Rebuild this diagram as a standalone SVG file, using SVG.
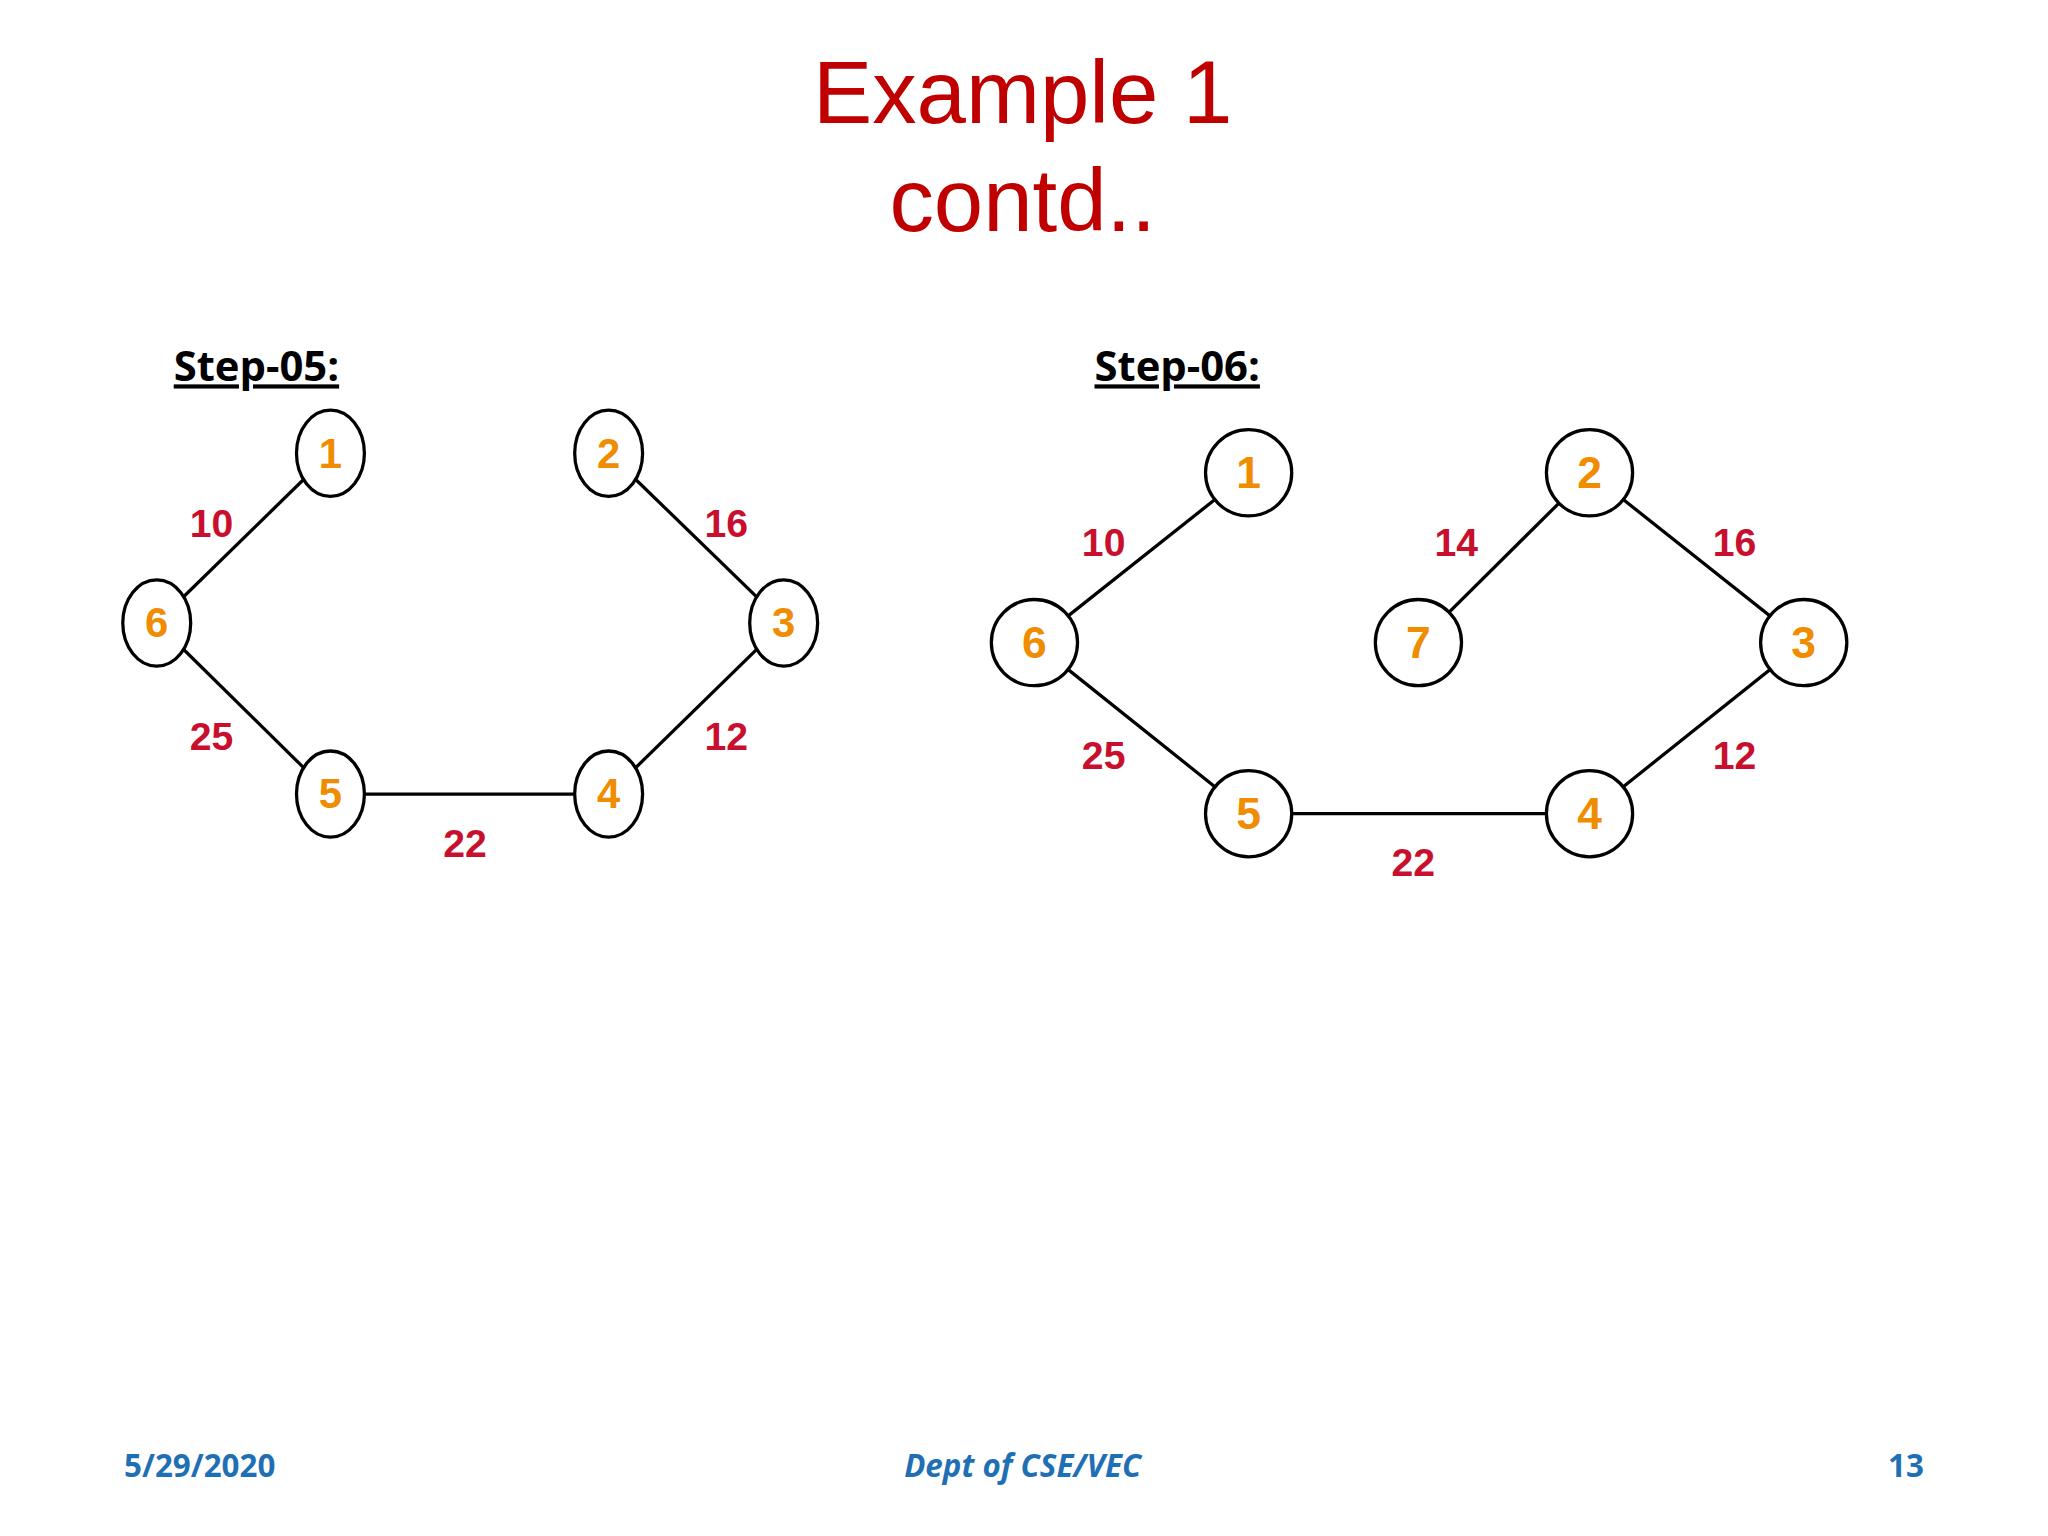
<svg xmlns="http://www.w3.org/2000/svg" width="2048" height="1536" viewBox="0 0 2048 1536">
<style>
.e{stroke:#000;stroke-width:2.5;fill:none}
.n{fill:#fff;stroke:#000;stroke-width:2.5}
.nt{font-family:"Liberation Sans Narrow","Liberation Sans",sans-serif;font-weight:bold;fill:#f08c00;text-anchor:middle}
.w{font-family:"Liberation Sans Narrow","Liberation Sans",sans-serif;font-weight:bold;fill:#c8102e;font-size:30px;text-anchor:middle}
.st{font-family:"Open Sans","Liberation Sans",sans-serif;font-weight:bold;font-size:32px;text-decoration:underline}
.ft{font-family:"Open Sans","Liberation Sans",sans-serif;font-weight:bold;font-size:24px;fill:#1f6fb5}
</style>
<rect width="2048" height="1536" fill="#fff"/>
<g transform="scale(1.3061)">
<g id="title" font-family="Liberation Sans,sans-serif" font-size="68" fill="#c00000" text-anchor="middle">
<text x="783" y="94">Example 1</text><text x="783" y="177">contd..</text></g>
<text class="st" x="133" y="292">Step-05:</text>
<text class="st" x="838" y="292">Step-06:</text>
<g id="connectors">
<line class="e" x1="253" y1="347" x2="120" y2="477"/>
<line class="e" x1="466" y1="347" x2="600" y2="477"/>
<line class="e" x1="120" y1="477" x2="253" y2="608"/>
<line class="e" x1="600" y1="477" x2="466" y2="608"/>
<line class="e" x1="253" y1="608" x2="466" y2="608"/>
<line class="e" x1="956" y1="362" x2="792" y2="492"/>
<line class="e" x1="1217" y1="362" x2="1086" y2="492"/>
<line class="e" x1="1217" y1="362" x2="1381" y2="492"/>
<line class="e" x1="792" y1="492" x2="956" y2="623"/>
<line class="e" x1="1381" y1="492" x2="1217" y2="623"/>
<line class="e" x1="956" y1="623" x2="1217" y2="623"/>
<text class="w" x="162" y="411">10</text><text class="w" x="556" y="411">16</text>
<text class="w" x="162" y="574">25</text><text class="w" x="556" y="574">12</text>
<text class="w" x="356" y="656">22</text>
<text class="w" x="845" y="426">10</text><text class="w" x="1115" y="426">14</text><text class="w" x="1328" y="426">16</text>
<text class="w" x="845" y="589">25</text><text class="w" x="1328" y="589">12</text>
<text class="w" x="1082" y="671">22</text>
</g>
<g id="a1"><ellipse class="n" cx="253" cy="347" rx="26" ry="33"/><text class="nt" font-size="32" x="253" y="358">1</text></g>
<g id="a2"><ellipse class="n" cx="466" cy="347" rx="26" ry="33"/><text class="nt" font-size="32" x="466" y="358">2</text></g>
<g id="a6"><ellipse class="n" cx="120" cy="477" rx="26" ry="33"/><text class="nt" font-size="32" x="120" y="488">6</text></g>
<g id="a3"><ellipse class="n" cx="600" cy="477" rx="26" ry="33"/><text class="nt" font-size="32" x="600" y="488">3</text></g>
<g id="a5"><ellipse class="n" cx="253" cy="608" rx="26" ry="33"/><text class="nt" font-size="32" x="253" y="619">5</text></g>
<g id="a4"><ellipse class="n" cx="466" cy="608" rx="26" ry="33"/><text class="nt" font-size="32" x="466" y="619">4</text></g>
<g id="b1"><circle class="n" cx="956" cy="362" r="33"/><text class="nt" font-size="34" x="956" y="374">1</text></g>
<g id="b2"><circle class="n" cx="1217" cy="362" r="33"/><text class="nt" font-size="34" x="1217" y="374">2</text></g>
<g id="b6"><circle class="n" cx="792" cy="492" r="33"/><text class="nt" font-size="34" x="792" y="504">6</text></g>
<g id="b7"><circle class="n" cx="1086" cy="492" r="33"/><text class="nt" font-size="34" x="1086" y="504">7</text></g>
<g id="b3"><circle class="n" cx="1381" cy="492" r="33"/><text class="nt" font-size="34" x="1381" y="504">3</text></g>
<g id="b5"><circle class="n" cx="956" cy="623" r="33"/><text class="nt" font-size="34" x="956" y="635">5</text></g>
<g id="b4"><circle class="n" cx="1217" cy="623" r="33"/><text class="nt" font-size="34" x="1217" y="635">4</text></g>
<text class="ft" x="95" y="1131">5/29/2020</text>
<text class="ft" x="783" y="1131" text-anchor="middle" font-style="italic">Dept of CSE/VEC</text>
<text class="ft" x="1473" y="1131" text-anchor="end">13</text>
</g>
</svg>
